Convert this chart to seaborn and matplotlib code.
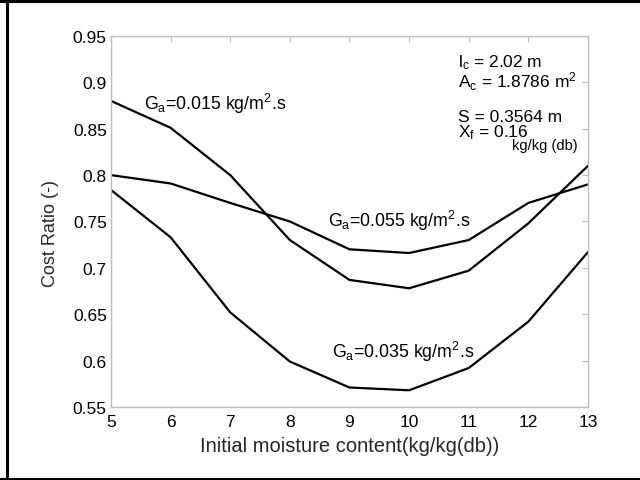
import matplotlib
matplotlib.use("Agg")
import matplotlib.pyplot as plt
from matplotlib.lines import Line2D
import pandas as pd
import seaborn as sns

# Initial moisture content (kg/kg db)
moisture = [5, 6, 7, 8, 9, 10, 11, 12, 13]

# Cost ratio for each air mass flux
cost_015 = [0.880, 0.851, 0.800, 0.730, 0.687, 0.678, 0.697, 0.748, 0.810]
cost_055 = [0.800, 0.791, 0.770, 0.750, 0.720, 0.716, 0.730, 0.770, 0.790]
cost_035 = [0.784, 0.733, 0.652, 0.599, 0.571, 0.568, 0.592, 0.642, 0.717]

series_names = ["0.015", "0.055", "0.035"]

y_ticks = [0.55, 0.6, 0.65, 0.7, 0.75, 0.8, 0.85, 0.9, 0.95]
y_tick_labels = ["0.55", "0.6", "0.65", "0.7", "0.75", "0.8", "0.85", "0.9", "0.95"]
x_ticks = moisture
x_tick_labels = [str(v) for v in moisture]

sns.set_theme(style="white")
plt.rcParams["font.family"] = ["Liberation Sans", "DejaVu Sans"]
plt.rcParams["mathtext.fontset"] = "custom"
plt.rcParams["mathtext.rm"] = "Liberation Sans"
plt.rcParams["mathtext.it"] = "Liberation Sans"
plt.rcParams["mathtext.default"] = "regular"

df = pd.DataFrame({
    "moisture": moisture * 3,
    "cost": cost_015 + cost_055 + cost_035,
    "Ga": [series_names[0]] * 9 + [series_names[1]] * 9 + [series_names[2]] * 9,
})

fig = plt.figure(figsize=(6.4, 4.81), dpi=100)
ax = fig.add_axes([0.1734, 0.1518, 0.7453, 0.7713])

sns.lineplot(data=df, x="moisture", y="cost", hue="Ga",
             palette=["black", "black", "black"], linewidth=1.6,
             legend=False, ax=ax)

ax.set_xlim(5, 13)
ax.set_ylim(0.55, 0.95)
ax.set_xticks(x_ticks)
ax.set_xticklabels(x_tick_labels)
ax.set_yticks(y_ticks)
ax.set_yticklabels(y_tick_labels)

grey = "#bdbdbd"
for sp in ax.spines.values():
    sp.set_color(grey)
    sp.set_linewidth(1.0)
ax.tick_params(axis="both", which="major", direction="in", length=4,
               width=0.8, color=grey, labelsize=12.5, labelcolor="black",
               top=True, right=True)
ax.tick_params(axis="x", pad=5)
ax.tick_params(axis="y", pad=3)

ax.set_xlabel("Initial moisture content(kg/kg(db))", fontsize=14.5)
ax.set_ylabel("Cost Ratio (-)", fontsize=13)
ax.xaxis.set_label_coords(0.5, -0.078)
ax.yaxis.set_label_coords(-0.108, 0.47)

# Curve labels
txt_kw = dict(fontsize=12.8, color="black", ha="left", va="baseline")
ax.text(5.56, 0.871, r"G$_a$=0.015 kg/m$^2$.s", **txt_kw)
ax.text(8.64, 0.745, r"G$_a$=0.055 kg/m$^2$.s", **txt_kw)
ax.text(8.70, 0.604, r"G$_a$=0.035 kg/m$^2$.s", **txt_kw)

# Dryer parameters
par_kw = dict(fontsize=12.5, color="black", ha="left", va="baseline")
ax.text(10.82, 0.9177, r"l$_c$ = 2.02 m", **par_kw)
ax.text(10.82, 0.895, r"A$_c$ = 1.8786 m$^2$", **par_kw)
ax.text(10.82, 0.858, r"S = 0.3564 m", **par_kw)
ax.text(10.82, 0.8415, r"X$_f$ = 0.16", **par_kw)
ax.text(11.73, 0.8285, "kg/kg (db)", fontsize=10.5, color="black",
        ha="left", va="baseline")

# Outer frame
frame_kw = dict(color="black", linewidth=2.2, transform=fig.transFigure)
fig.add_artist(Line2D([0, 1], [0.996, 0.996], **frame_kw))
fig.add_artist(Line2D([0.0105, 0.0105], [0.002, 0.996], **frame_kw))
fig.add_artist(Line2D([0, 1], [0.003, 0.003], **frame_kw))

fig.savefig("out.png", dpi=100)
